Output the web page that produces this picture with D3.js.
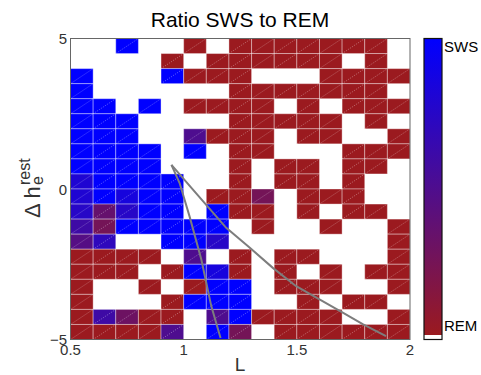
<!DOCTYPE html>
<html>
<head>
<meta charset="utf-8">
<script src="https://cdn.jsdelivr.net/npm/d3@7"></script>
<style>
  body { margin: 0; background: #fff; }
  svg { display: block; font-family: "Liberation Sans", Arial, Helvetica, sans-serif; }
</style>
</head>
<body>
<svg id="chart" width="481" height="375"></svg>
<script>
// Bin edges along L (columns) and along Δh (rows, listed top to bottom)
const lEdges = [0.5, 0.6, 0.7, 0.8, 0.9, 1.0, 1.1, 1.2, 1.3, 1.4, 1.5, 1.6, 1.7, 1.8, 1.9, 2.0];
const dhEdges = [5, 4.5, 4, 3.5, 3, 2.5, 2, 1.5, 1, 0.5, 0, -0.5, -1, -1.5, -2, -2.5, -3, -3.5, -4, -4.5, -5];

// Fraction of SWS (1 = all SWS, 0 = all REM); null = no data in bin
const _ = null;
const ratio = [
  [_,    _,    1,    _,    _,    0,    _,    0,    0,    0,    0,    0,    0,    0,    _],
  [_,    _,    _,    _,    0,    _,    0,    0,    0,    0,    0,    0,    _,    0,    _],
  [1,    _,    _,    _,    1,    0,    0,    0,    _,    _,    _,    0,    0,    0,    0],
  [1,    _,    _,    _,    _,    _,    _,    0,    0,    0,    0,    0,    0,    0,    _],
  [1,    1,    _,    1,    _,    0,    0,    0,    0,    _,    0,    _,    0,    0,    0],
  [1,    1,    1,    _,    _,    _,    _,    0,    0,    0,    0,    0,    _,    0,    _],
  [1,    1,    1,    _,    _,    0.5,  0,    0,    0,    _,    0,    0,    _,    _,    0],
  [1,    1,    1,    1,    _,    1,    _,    0,    0,    _,    _,    _,    0,    0,    0],
  [1,    1,    1,    1,    _,    _,    _,    0,    _,    0,    0,    _,    0,    0,    _],
  [0.8,  1,    1,    1,    1,    _,    _,    0,    _,    0,    0,    _,    0,    _,    _],
  [0.8,  1,    0.85, 1,    1,    _,    0,    0,    0.25, _,    0,    0,    0,    _,    _],
  [0.75, 0.35, 0.75, 1,    1,    _,    1,    0,    0,    _,    0,    _,    0,    0,    _],
  [0.6,  0.25, 1,    1,    1,    1,    1,    _,    0,    _,    _,    0,    _,    _,    0],
  [0.45, 0.7,  _,    _,    1,    1,    0.75, _,    _,    _,    _,    _,    _,    _,    0],
  [0,    0,    0,    0,    _,    0.5,  _,    0,    _,    0,    0,    _,    _,    _,    0],
  [0,    0,    0,    _,    0,    1,    0.85, 0,    _,    0,    _,    0,    _,    0,    0],
  [0,    _,    _,    0,    _,    0,    1,    1,    _,    0,    0,    0,    _,    _,    0],
  [0,    _,    _,    _,    0,    1,    1,    1,    _,    _,    0,    _,    0,    0,    _],
  [0,    0.6,  0.3,  0,    0,    _,    0.5,  1,    0,    0,    0,    0,    _,    _,    0],
  [0,    0,    0,    0,    0.5,  _,    1,    0.25, _,    0,    0,    0,    0,    0,    0]
];

// Boundary curves drawn over the map
const boundSteepL  = [0.946, 0.982, 1.026, 1.078, 1.122, 1.163];
const boundSteepDh = [0.80, 0.20, -0.91, -2.34, -3.89, -4.95];
const boundWideL   = [0.946, 1.041, 1.188, 1.291, 1.394, 1.497, 1.600, 1.703, 1.791, 1.894];
const boundWideDh  = [0.80, -0.02, -1.29, -1.94, -2.62, -3.23, -3.67, -4.11, -4.49, -4.89];

const xTicks = [0.5, 1, 1.5, 2];
const xTickLabels = ["0.5", "1", "1.5", "2"];
const yTicks = [-5, 0, 5];
const yTickLabels = ["\u22125", "0", "5"];
const colorbarLabels = ["SWS", "REM"];

const remColor = "#9b1a1f";
const swsColor = "#0000ff";
const color = d3.scaleLinear().domain([0, 1]).range([remColor, swsColor]).interpolate(d3.interpolateRgb);

const svg = d3.select("#chart");
const plot = { left: 70.5, right: 410, top: 38.5, bottom: 339.5 };

const x = d3.scaleLinear().domain([0.5, 2]).range([plot.left, plot.right]);
const y = d3.scaleLinear().domain([-5, 5]).range([plot.bottom, plot.top]);

// Title
svg.append("text")
  .attr("x", 240).attr("y", 26.5)
  .attr("text-anchor", "middle")
  .attr("font-size", 21)
  .attr("fill", "#000")
  .text("Ratio SWS to REM");

// Cells
const cells = [];
ratio.forEach((row, r) => row.forEach((v, c) => {
  if (v !== null) cells.push({ v, l0: lEdges[c], l1: lEdges[c + 1], hi: dhEdges[r], lo: dhEdges[r + 1] });
}));

const gCells = svg.append("g");
gCells.selectAll("rect").data(cells).join("rect")
  .attr("x", d => x(d.l0))
  .attr("y", d => y(d.hi))
  .attr("width", d => x(d.l1) - x(d.l0))
  .attr("height", d => y(d.lo) - y(d.hi))
  .attr("fill", d => color(d.v))
  .attr("stroke", "rgba(255,255,255,0.36)")
  .attr("stroke-width", 1);

// Triangulation diagonals of each face
gCells.selectAll("line").data(cells).join("line")
  .attr("x1", d => x(d.l0)).attr("y1", d => y(d.lo))
  .attr("x2", d => x(d.l1)).attr("y2", d => y(d.hi))
  .attr("stroke", "rgba(255,255,255,0.4)")
  .attr("stroke-width", 0.8)
  .attr("stroke-dasharray", "1.2,1.2");

// Boundary curves
const line = d3.line().x(d => x(d[0])).y(d => y(d[1]));
[[boundSteepL, boundSteepDh], [boundWideL, boundWideDh]].forEach(([ls, ds]) => {
  svg.append("path")
    .datum(ls.map((l, i) => [l, ds[i]]))
    .attr("d", line)
    .attr("fill", "none")
    .attr("stroke", "#7d7d7d")
    .attr("stroke-width", 2);
});

// Axes box
svg.append("rect")
  .attr("x", plot.left).attr("y", plot.top)
  .attr("width", plot.right - plot.left).attr("height", plot.bottom - plot.top)
  .attr("fill", "none").attr("stroke", "#666").attr("stroke-width", 1);

// Tick labels
svg.append("g").selectAll("text").data(xTicks).join("text")
  .attr("x", d => x(d)).attr("y", 355)
  .attr("text-anchor", "middle")
  .attr("font-size", 15)
  .attr("fill", "#333")
  .text((d, i) => xTickLabels[i]);

svg.append("g").selectAll("text").data(yTicks).join("text")
  .attr("x", 67).attr("y", d => y(d) + 5.5)
  .attr("text-anchor", "end")
  .attr("font-size", 15)
  .attr("fill", "#333")
  .text((d, i) => yTickLabels[i]);

// Axis labels
svg.append("text")
  .attr("x", 240).attr("y", 371)
  .attr("text-anchor", "middle")
  .attr("font-size", 19)
  .attr("fill", "#333")
  .text("L");

const yl = svg.append("g").attr("transform", "translate(39.5,218) rotate(-90)");
yl.append("text").attr("x", 0).attr("y", 0)
  .attr("font-size", 22).attr("fill", "#333").text("\u0394 h");
yl.append("text").attr("x", 33).attr("y", 3)
  .attr("font-size", 16).attr("fill", "#333").text("e");
yl.append("text").attr("x", 33).attr("y", -10)
  .attr("font-size", 16).attr("fill", "#333").text("rest");

// Colorbar
const cb = { x: 424, w: 18, top: 38.5, bottom: 339.5, fillEnd: 335 };
const grad = svg.append("defs").append("linearGradient")
  .attr("id", "cbGrad").attr("x1", 0).attr("y1", 0).attr("x2", 0).attr("y2", 1);
grad.append("stop").attr("offset", "0%").attr("stop-color", color(1));
grad.append("stop").attr("offset", "100%").attr("stop-color", color(0));

svg.append("rect")
  .attr("x", cb.x).attr("y", cb.top)
  .attr("width", cb.w).attr("height", cb.fillEnd - cb.top)
  .attr("fill", "url(#cbGrad)");
svg.append("rect")
  .attr("x", cb.x).attr("y", cb.top)
  .attr("width", cb.w).attr("height", cb.bottom - cb.top)
  .attr("fill", "none").attr("stroke", "#111").attr("stroke-width", 1.2);

svg.append("text").attr("x", 444).attr("y", 52)
  .attr("font-size", 15).attr("fill", "#000").text(colorbarLabels[0]);
svg.append("text").attr("x", 444).attr("y", 331)
  .attr("font-size", 15).attr("fill", "#000").text(colorbarLabels[1]);
</script>
</body>
</html>
